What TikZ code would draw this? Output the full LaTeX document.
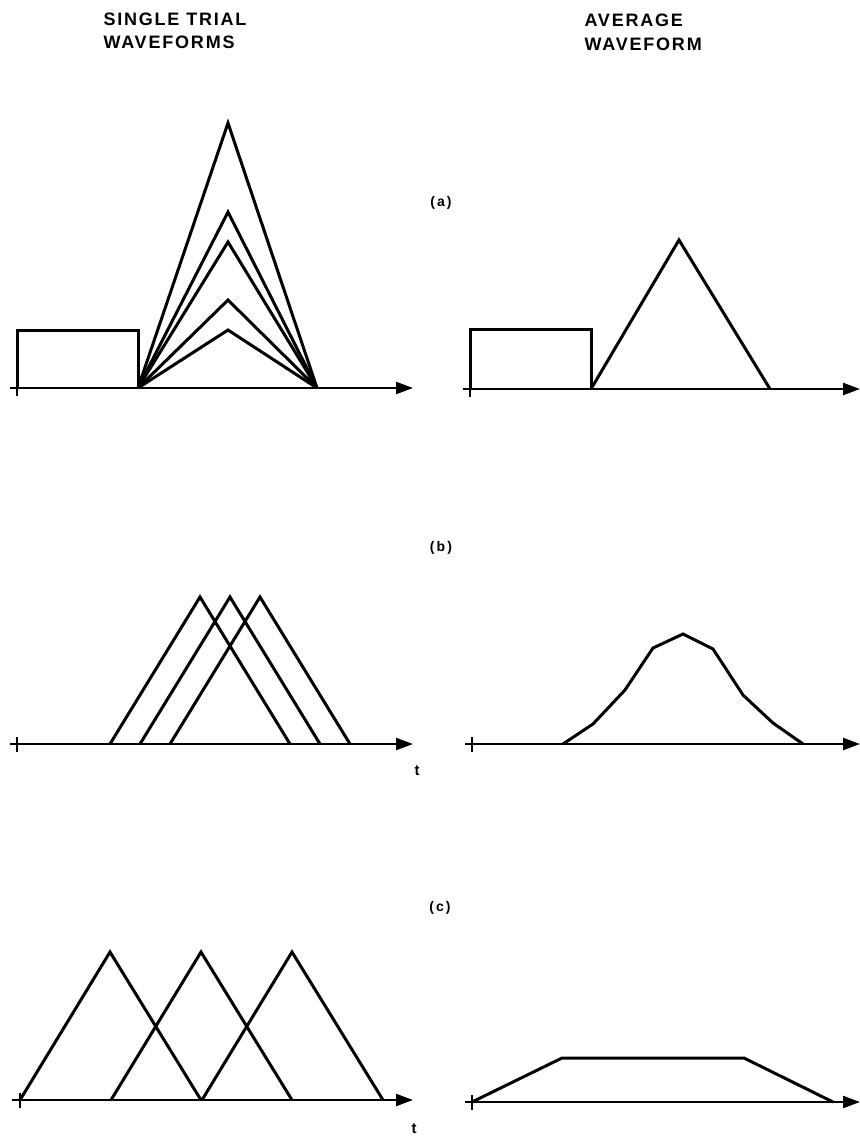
\documentclass[tikz,border=0pt]{standalone}
\usepackage{fontspec}
\setmainfont{Liberation Sans}
\usetikzlibrary{arrows.meta}

\begin{document}
\begin{tikzpicture}[x=1pt, y=-1pt, line width=3pt,
    axis/.style={line width=2.3pt, -{Triangle[length=17pt, width=12pt]}},
    tick/.style={line width=2.4pt},
    head/.style={anchor=base west, inner sep=0pt, font=\fontsize{18}{22}\selectfont\bfseries\addfontfeatures{LetterSpace=10}},
    tag/.style={inner sep=0pt, font=\fontsize{14}{16}\selectfont\bfseries\addfontfeatures{LetterSpace=15}},
    tlabel/.style={inner sep=0pt, font=\fontsize{15}{17}\selectfont\bfseries}]
  \useasboundingbox (0,0) rectangle (860,1136);

  % column headings
  \node[head] (singlehead) at (102,25) {SINGLE TRIAL};
  \node[head] (singlehead2) at (102,48) {WAVEFORMS};
  \node[head] (avghead) at (583,26) {AVERAGE};
  \node[head] (avghead2) at (583,50) {WAVEFORM};

  % (a) amplitude variation
  \node[tag] (taga) at (441,203) {(a)};
  \draw[axis] (10,388) -- (413,388);
  \draw[tick] (17,381) -- (17,396);
  \draw (17,388) -- (17,330) -- (138,330) -- (138,388);
  \foreach \h in {123,212,242,300,330}
    \draw (138,388) -- (228,\h) -- (317,388);

  \draw[axis] (463,389) -- (860,389);
  \draw[tick] (470,382) -- (470,397);
  \draw (470,389) -- (470,329) -- (591,329) -- (591,389);
  \draw (591,389) -- (679,240) -- (770,389);

  % (b) small latency jitter
  \node[tag] (tagb) at (441,548) {(b)};
  \draw[axis] (10,744) -- (413,744);
  \draw[tick] (17,737) -- (17,752);
  \foreach \s in {0,30,60}
    \draw (110+\s,744) -- (200+\s,597) -- (290+\s,744);
  \node[tlabel] (tb) at (417,771) {t};

  \draw[axis] (465,744) -- (860,744);
  \draw[tick] (472,737) -- (472,752);
  \draw (563,744) -- (593,724) -- (625,690) -- (653,648) -- (683,634)
    -- (713,649) -- (743,695) -- (773,723) -- (803,744);

  % (c) large latency jitter
  \node[tag] (tagc) at (440,908) {(c)};
  \draw[axis] (12,1100) -- (413,1100);
  \draw[tick] (20,1093) -- (20,1108);
  \foreach \s in {0,91,182}
    \draw (20+\s,1100) -- (110+\s,952) -- (201+\s,1100);
  \node[tlabel] (tc) at (414,1129) {t};

  \draw[axis] (465,1102) -- (860,1102);
  \draw[tick] (472,1095) -- (472,1110);
  \draw (472,1102) -- (562,1058) -- (744,1058) -- (833,1102);
\end{tikzpicture}
\end{document}
